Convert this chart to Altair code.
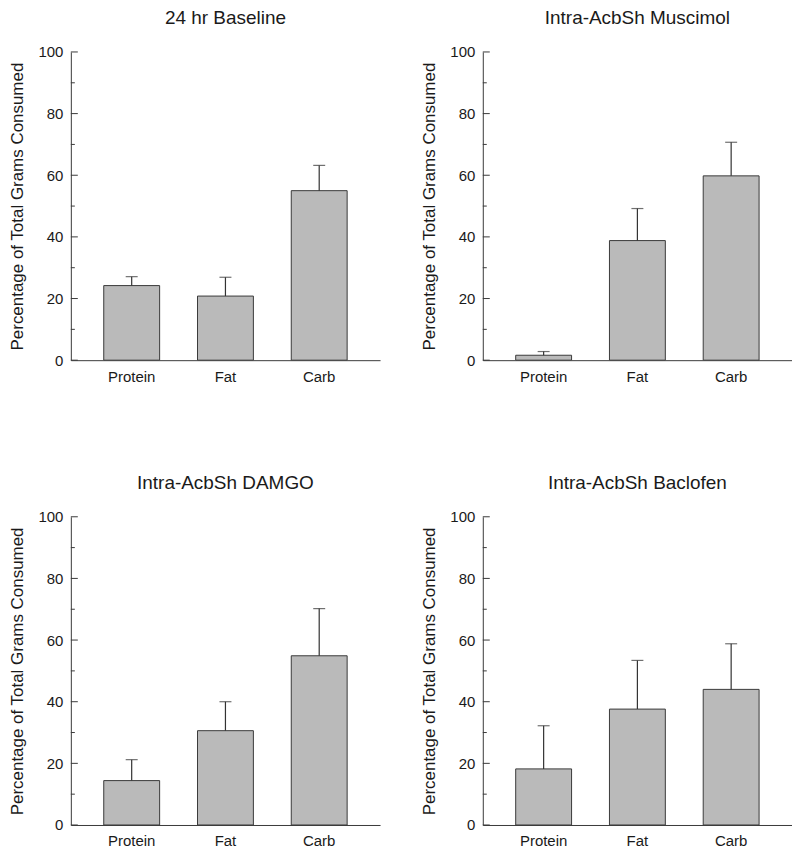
import altair as alt
import pandas as pd

panels = ["24 hr Baseline", "Intra-AcbSh Muscimol", "Intra-AcbSh DAMGO", "Intra-AcbSh Baclofen"]
nutrients = ["Protein", "Fat", "Carb"]
means = {
    "24 hr Baseline": [24.2, 20.8, 55.0],
    "Intra-AcbSh Muscimol": [1.6, 38.8, 59.8],
    "Intra-AcbSh DAMGO": [14.4, 30.6, 54.9],
    "Intra-AcbSh Baclofen": [18.2, 37.6, 44.0],
}
upper = {
    "24 hr Baseline": [27.1, 26.9, 63.2],
    "Intra-AcbSh Muscimol": [2.8, 49.2, 70.7],
    "Intra-AcbSh DAMGO": [21.2, 40.0, 70.2],
    "Intra-AcbSh Baclofen": [32.2, 53.4, 58.8],
}
major_ticks = [0, 20, 40, 60, 80, 100]
minor_ticks = [10, 30, 50, 70, 90]
y_title = "Percentage of Total Grams Consumed"

rows = []
for p in panels:
    for n, m, u in zip(nutrients, means[p], upper[p]):
        rows.append({"panel": p, "nutrient": n, "mean": m, "upper": u})
df = pd.DataFrame(rows)
major_df = pd.DataFrame({"v": major_ticks})
minor_df = pd.DataFrame({"v": minor_ticks})

FONT = "Liberation Sans"
AXIS_COLOR = "#3a3a3a"
TEXT_COLOR = "#1a1a1a"
W, H = 310, 309


def panel(name):
    base = alt.Chart(df).transform_filter(alt.datum.panel == name)
    x = alt.X("nutrient:N", sort=nutrients, title=None,
              scale=alt.Scale(paddingInner=0.404, paddingOuter=0.351),
              axis=alt.Axis(labelAngle=0, ticks=False, domainColor=AXIS_COLOR,
                            labelFontSize=15, labelPadding=9, labelColor=TEXT_COLOR,
                            labelFont=FONT))
    yscale = alt.Scale(domain=[0, 100], nice=False)
    y = alt.Y("mean:Q", scale=yscale, title=y_title,
              axis=alt.Axis(values=major_ticks, ticks=False, grid=False,
                            domainColor=AXIS_COLOR, labelFontSize=15, labelPadding=8,
                            labelColor=TEXT_COLOR, labelFont=FONT,
                            titleFontSize=17, titleFont=FONT, titleFontWeight="normal",
                            titleColor=TEXT_COLOR, titlePadding=11))
    bars = base.mark_bar(color="#bababa", stroke=AXIS_COLOR, strokeWidth=1).encode(x=x, y=y)
    err = base.mark_rule(color="#333333", strokeWidth=1.2).encode(
        x=alt.X("nutrient:N", sort=nutrients),
        y=alt.Y("mean:Q"), y2="upper:Q")
    cap = base.mark_tick(color="#333333", size=12, thickness=1.2, orient="horizontal").encode(
        x=alt.X("nutrient:N", sort=nutrients), y=alt.Y("upper:Q"))
    maj = alt.Chart(major_df).mark_rule(color=AXIS_COLOR, strokeWidth=1).encode(
        y=alt.Y("v:Q", scale=yscale), x=alt.value(0), x2=alt.value(7))
    mino = alt.Chart(minor_df).mark_rule(color=AXIS_COLOR, strokeWidth=1).encode(
        y=alt.Y("v:Q", scale=yscale), x=alt.value(0), x2=alt.value(4))
    return alt.layer(bars, err, cap, maj, mino).properties(
        width=W, height=H,
        title=alt.TitleParams(name, fontSize=19, font=FONT, fontWeight="normal",
                              color=TEXT_COLOR, anchor="middle", frame="group", offset=17))


top = alt.hconcat(panel(panels[0]), panel(panels[1]), spacing=40)
bottom = alt.hconcat(panel(panels[2]), panel(panels[3]), spacing=40)
chart = alt.vconcat(top, bottom, spacing=90).properties(
    padding={"left": 0, "top": 0, "right": 0, "bottom": 0}
).configure_view(stroke=None).configure_axis(domainWidth=1)

chart.save("out.html", embed_options={"renderer": "svg", "actions": False})
